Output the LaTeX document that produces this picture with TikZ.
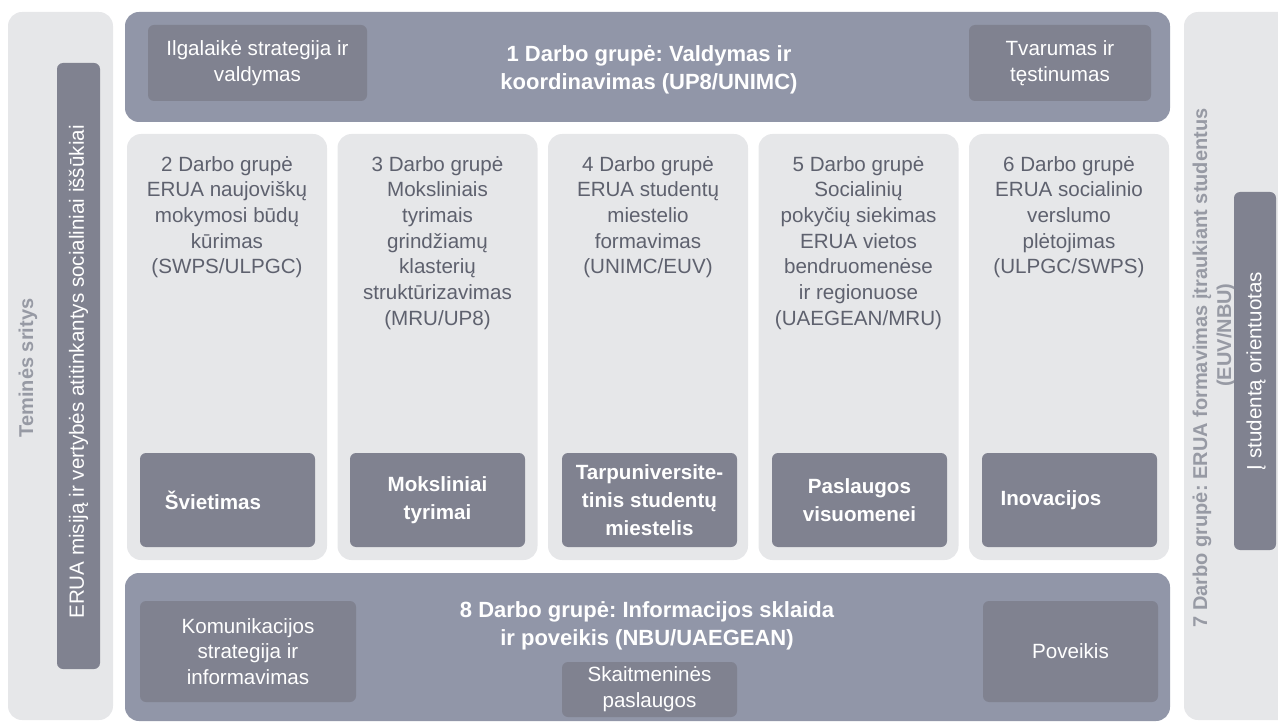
\documentclass[tikz,border=0pt]{standalone}
\usepackage{fontspec}
\setmainfont{Liberation Sans}
\frenchspacing
\definecolor{lightpanel}{HTML}{E6E7E9}
\definecolor{slate}{HTML}{9196A8}
\definecolor{darktag}{HTML}{808290}
\definecolor{coltxt}{HTML}{5E616E}
\definecolor{sidetxt}{HTML}{979AA4}
\newcommand{\myreg}{\fontsize{20.6}{25.7}\selectfont}
\newcommand{\mytitle}{\fontsize{22}{28}\selectfont\bfseries}
\newcommand{\mytag}{\fontsize{20.6}{28}\selectfont\bfseries}
\newcommand{\myside}{\fontsize{20}{24}\selectfont\bfseries}
\begin{document}
\begin{tikzpicture}[x=1pt,y=-1pt,
  panel/.style={fill=lightpanel, rounded corners=14pt, inner sep=0pt, draw=none},
  wgbox/.style={fill=slate, rounded corners=14pt, inner sep=0pt, draw=none},
  tagbox/.style={fill=darktag, rounded corners=6pt, inner sep=0pt, draw=none, text=white, align=center},
  regtag/.style={tagbox, font=\myreg},
  boldtag/.style={tagbox, font=\mytag, minimum width=175pt, minimum height=94pt},
  coltext/.style={text=coltxt, font=\myreg, align=center, anchor=north, inner sep=0pt},
  wgtitle/.style={text=white, font=\mytitle, align=center, inner sep=0pt},
  sidetitle/.style={text=sidetxt, font=\myside, align=center, inner sep=0pt, rotate=90},
  colbox/.style={panel, minimum width=200pt, minimum height=426pt}
]
\useasboundingbox (0,0) rectangle (1278,722);

% side panels
\node[panel, minimum width=105pt, minimum height=708pt] (leftpanel) at (60.5,366) {};
\node[panel, minimum width=120pt, minimum height=708pt] (rightpanel) at (1244,366) {};

\node[sidetitle] (temines) at (28,368) {Teminės sritys};
\node[tagbox, minimum width=43pt, minimum height=606pt] (missionbar) at (78.5,366) {};
\node[text=white, font=\myreg, rotate=90, inner sep=0pt] (mission) at (78.5,372) {ERUA misiją ir vertybės atitinkantys socialiniai iššūkiai};

\node[sidetitle] (wg7) at (1214,368) {7 Darbo grupė: ERUA formavimas įtraukiant studentus\\\hspace*{66pt}(EUV/NBU)};
\node[tagbox, minimum width=42pt, minimum height=358pt] (studentbar) at (1255,371) {};
\node[text=white, font=\myreg, rotate=90, inner sep=0pt] (student) at (1256,371) {Į studentą orientuotas};

% WG1 top box
\node[wgbox, minimum width=1045pt, minimum height=110pt] (wg1) at (647.5,67) {};
\node[regtag, minimum width=219pt, minimum height=76pt] (strategy) at (257.5,63) {Ilgalaikė strategija ir\\valdymas};
\node[regtag, minimum width=182pt, minimum height=76pt] (sustain) at (1060,63) {Tvarumas ir\\tęstinumas};
\node[wgtitle] (wg1title) at (649,69.5) {1 Darbo grupė: Valdymas ir\\koordinavimas (UP8/UNIMC)};

% columns
\node[colbox] (col2) at (227,347) {};
\node[colbox] (col3) at (437.5,347) {};
\node[colbox] (col4) at (648,347) {};
\node[colbox] (col5) at (858.5,347) {};
\node[colbox] (col6) at (1069,347) {};

\node[coltext] (col2text) at (227,156) {2 Darbo grupė\\ERUA naujoviškų\\mokymosi būdų\\kūrimas\\(SWPS/ULPGC)};
\node[coltext] (col3text) at (437.5,156) {3 Darbo grupė\\Moksliniais\\tyrimais\\grindžiamų\\klasterių\\struktūrizavimas\\(MRU/UP8)};
\node[coltext] (col4text) at (648,156) {4 Darbo grupė\\ERUA studentų\\miestelio\\formavimas\\(UNIMC/EUV)};
\node[coltext] (col5text) at (858.5,156) {5 Darbo grupė\\Socialinių\\pokyčių siekimas\\ERUA vietos\\bendruomenėse\\ir regionuose\\(UAEGEAN/MRU)};
\node[coltext] (col6text) at (1069,156) {6 Darbo grupė\\ERUA socialinio\\verslumo\\plėtojimas\\(ULPGC/SWPS)};

\node[boldtag] (educ) at (227.5,500) {Švietimas\hspace*{29pt}};
\node[boldtag] (research) at (437.5,500) {Moksliniai\\tyrimai};
\node[boldtag] (campus) at (649.5,500) {Tarpuniversite-\\tinis studentų\\miestelis};
\node[boldtag] (services) at (859.5,500) {Paslaugos\\visuomenei};
\node[boldtag] (innov) at (1069.5,500) {Inovacijos\hspace*{37pt}};

% WG8 bottom box
\node[wgbox, minimum width=1045pt, minimum height=148pt] (wg8) at (647.5,647) {};
\node[regtag, minimum width=216pt, minimum height=101pt] (comm) at (248,651.5) {Komunikacijos\\strategija ir\\informavimas};
\node[regtag, minimum width=175pt, minimum height=101pt] (impact) at (1070.5,651.5) {Poveikis};
\node[regtag, minimum width=175pt, minimum height=55pt] (digital) at (649.5,689.5) {Skaitmeninės\\paslaugos};
\node[wgtitle] (wg8title) at (647,626) {8 Darbo grupė: Informacijos sklaida\\ir poveikis (NBU/UAEGEAN)};
\end{tikzpicture}
\end{document}
